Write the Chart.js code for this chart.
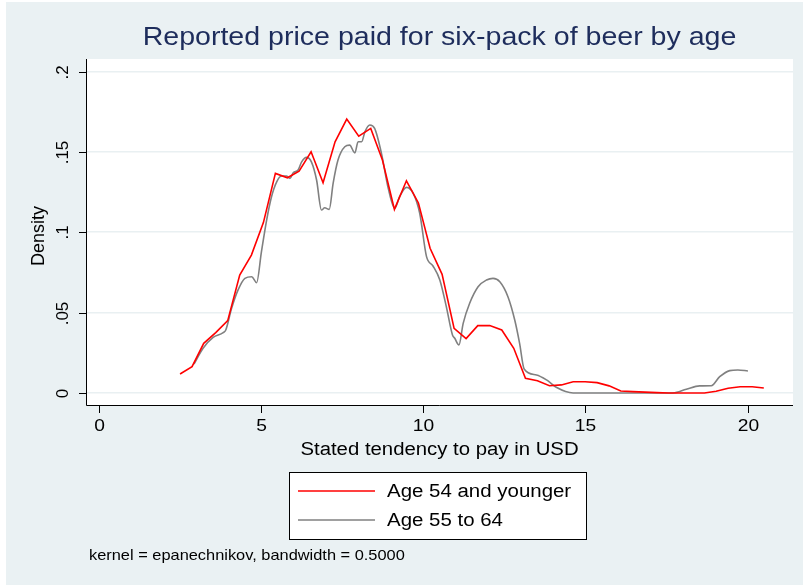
<!DOCTYPE html>
<html>
<head>
<meta charset="utf-8">
<script src="https://cdn.jsdelivr.net/npm/chart.js@4/dist/chart.umd.min.js"></script>
<style>
  html, body { margin: 0; padding: 0; background: #ffffff; }
  canvas { display: block; }
</style>
</head>
<body>
<canvas id="c" width="803" height="586"></canvas>
<script>
// ---- data ----
const titleText = 'Reported price paid for six-pack of beer by age';
const xTitle = 'Stated tendency to pay in USD';
const yTitle = 'Density';
const note = 'kernel = epanechnikov, bandwidth = 0.5000';
const seriesNames = ['Age 54 and younger', 'Age 55 to 64'];

const xTicks = [0, 5, 10, 15, 20];
const xTickLabels = ['0', '5', '10', '15', '20'];
const yTicks = [0, 0.05, 0.1, 0.15, 0.2];
const yTickLabels = ['0', '.05', '.1', '.15', '.2'];

const youngX = [2.50, 2.87, 3.23, 3.60, 3.97, 4.34, 4.70, 5.07, 5.44, 5.81,
                6.17, 6.54, 6.91, 7.28, 7.64, 8.01, 8.38, 8.74, 9.11, 9.48,
                9.85, 10.21, 10.58, 10.95, 11.32, 11.68, 12.05, 12.42, 12.79, 13.15,
                13.52, 13.89, 14.26, 14.62, 14.99, 15.36, 15.73, 16.09, 16.46, 16.83,
                17.20, 17.56, 17.93, 18.30, 18.67, 19.03, 19.40, 19.77, 20.14, 20.50];
const youngY = [0.0118, 0.0164, 0.0309, 0.0375, 0.0450, 0.0734, 0.0858, 0.1060, 0.1366, 0.1339,
                0.1380, 0.1501, 0.1308, 0.1563, 0.1704, 0.1598, 0.1646, 0.1449, 0.1142, 0.1320,
                0.1182, 0.0900, 0.0738, 0.0402, 0.0338, 0.0419, 0.0419, 0.0392, 0.0278, 0.0091,
                0.0076, 0.0045, 0.0050, 0.0070, 0.0070, 0.0064, 0.0044, 0.0012, 0.0008, 0.0005,
                0.0002, 0.0000, 0.0000, 0.0000, 0.0000, 0.0011, 0.0029, 0.0039, 0.0039, 0.0031];

const olderX = [2.93, 3.21, 3.52, 3.83, 3.91, 4.09, 4.29, 4.50, 4.71, 4.86,
                5.01, 5.17, 5.32, 5.48, 5.63, 5.78, 5.89, 5.99, 6.14, 6.25,
                6.40, 6.55, 6.71, 6.86, 6.96, 7.10, 7.22, 7.37, 7.58, 7.73,
                7.89, 7.99, 8.10, 8.20, 8.35, 8.50, 8.71, 8.92, 9.12, 9.27,
                9.48, 9.69, 9.89, 10.10, 10.30, 10.51, 10.71, 10.90, 10.97, 11.10,
                11.23, 11.43, 11.69, 11.95, 12.15, 12.36, 12.61, 12.82, 12.97, 13.11,
                13.49, 13.80, 14.10, 14.62, 15.44, 17.70, 18.11, 18.52, 18.88, 19.14,
                19.45, 19.70, 20.01];
const olderY = [0.0180, 0.0278, 0.0346, 0.0375, 0.0392, 0.0527, 0.0641, 0.0713, 0.0723, 0.0686,
                0.0879, 0.1076, 0.1221, 0.1314, 0.1350, 0.1350, 0.1335, 0.1370, 0.1387, 0.1438,
                0.1466, 0.1438, 0.1325, 0.1138, 0.1152, 0.1142, 0.1304, 0.1449, 0.1532, 0.1542,
                0.1494, 0.1563, 0.1563, 0.1625, 0.1667, 0.1646, 0.1491, 0.1273, 0.1149, 0.1221,
                0.1279, 0.1242, 0.1118, 0.0848, 0.0790, 0.0703, 0.0537, 0.0361, 0.0340, 0.0299,
                0.0433, 0.0558, 0.0661, 0.0703, 0.0713, 0.0692, 0.0599, 0.0454, 0.0309, 0.0149,
                0.0112, 0.0081, 0.0035, 0.0000, 0.0000, 0.0000, 0.0023, 0.0044, 0.0045, 0.0101,
                0.0139, 0.0143, 0.0137];

// ---- styling ----
const FONT = '"Liberation Sans", Arial, Helvetica, sans-serif';
const BG = '#eaf1f3';
const GRID = '#e9f0f2';
const TITLE_COLOR = '#1e2d5c';
const RED = '#ff0000';
const GRAY = '#808080';
const SX = 1.13; // horizontal glyph stretch seen in the reference

function stretchedText(c, text, x, y, align, sx) {
  c.save();
  c.translate(x, y);
  c.scale(sx, 1);
  c.textAlign = align;
  c.fillText(text, 0, 0);
  c.restore();
}

const decor = {
  id: 'decor',
  beforeDraw(chart) {
    const c = chart.ctx;
    const a = chart.chartArea;
    c.save();
    c.fillStyle = '#ffffff';
    c.fillRect(0, 0, chart.width, chart.height);
    c.fillStyle = BG;
    c.fillRect(6, 2, chart.width - 6, chart.height - 3);
    c.fillStyle = '#ffffff';
    c.fillRect(a.left, a.top, a.right - a.left, a.bottom - a.top);
    c.restore();
  },
  afterDraw(chart) {
    const c = chart.ctx;
    const a = chart.chartArea;
    const xs = chart.scales.x, ys = chart.scales.y;
    c.save();
    // axis lines
    c.strokeStyle = '#000000';
    c.lineWidth = 1;
    c.beginPath();
    c.moveTo(a.left + 0.5, a.top);
    c.lineTo(a.left + 0.5, a.bottom + 0.5);
    c.lineTo(a.right, a.bottom + 0.5);
    c.stroke();
    // x ticks
    c.fillStyle = '#000000';
    c.font = '17px ' + FONT;
    c.textBaseline = 'middle';
    xTicks.forEach((v, i) => {
      const px = Math.round(xs.getPixelForValue(v)) + 0.5;
      c.beginPath();
      c.moveTo(px, a.bottom + 1);
      c.lineTo(px, a.bottom + 8);
      c.stroke();
      stretchedText(c, xTickLabels[i], px, 426, 'center', SX);
    });
    // y ticks
    c.textAlign = 'center';
    yTicks.forEach((v, i) => {
      const py = Math.round(ys.getPixelForValue(v)) + 0.5;
      c.beginPath();
      c.moveTo(a.left - 7, py);
      c.lineTo(a.left, py);
      c.stroke();
      c.save();
      c.translate(63, py);
      c.rotate(-Math.PI / 2);
      c.fillText(yTickLabels[i], 0, 0);
      c.restore();
    });
    // axis titles
    c.font = '18px ' + FONT;
    stretchedText(c, xTitle, (a.left + a.right) / 2, 450, 'center', SX);
    c.save();
    c.translate(39, (a.top + a.bottom) / 2 + 4);
    c.rotate(-Math.PI / 2);
    c.textAlign = 'center';
    c.fillText(yTitle, 0, 0);
    c.restore();
    // title
    c.fillStyle = TITLE_COLOR;
    c.font = '25.5px ' + FONT;
    stretchedText(c, titleText, (a.left + a.right) / 2, 38, 'center', 1.12);
    // legend box
    c.fillStyle = '#ffffff';
    c.fillRect(289, 472, 297, 67);
    c.strokeStyle = '#000000';
    c.strokeRect(289.5, 472.5, 297, 67);
    const colors = [RED, GRAY];
    const rows = [491, 520];
    c.font = '18px ' + FONT;
    c.fillStyle = '#000000';
    seriesNames.forEach((n, i) => {
      c.strokeStyle = colors[i];
      c.lineWidth = 1.6;
      c.beginPath();
      c.moveTo(298, rows[i]);
      c.lineTo(375, rows[i]);
      c.stroke();
      stretchedText(c, n, 387, rows[i] + 1, 'left', 1.136);
    });
    // note
    c.font = '14.5px ' + FONT;
    stretchedText(c, note, 89, 556, 'left', 1.13);
    c.restore();
  }
};

const toPts = (xs, ys) => xs.map((x, i) => ({ x: x, y: ys[i] }));

new Chart(document.getElementById('c'), {
  type: 'line',
  data: {
    datasets: [
      { label: seriesNames[0], data: toPts(youngX, youngY), borderColor: RED, borderWidth: 1.6,
        pointRadius: 0, tension: 0, fill: false },
      { label: seriesNames[1], data: toPts(olderX, olderY), borderColor: GRAY, borderWidth: 1.6,
        pointRadius: 0, cubicInterpolationMode: 'monotone', fill: false }
    ]
  },
  options: {
    responsive: false,
    animation: false,
    events: [],
    layout: { padding: { left: 0, top: 59, right: 10, bottom: 0 } },
    plugins: { legend: { display: false }, title: { display: false }, tooltip: { enabled: false } },
    scales: {
      x: {
        type: 'linear', min: -0.4, max: 21.4,
        afterBuildTicks: s => { s.ticks = xTicks.map(v => ({ value: v })); },
        afterFit: s => { s.height = 586 - 405; },
        grid: { display: false }, border: { display: false }, ticks: { display: false }
      },
      y: {
        type: 'linear', min: -0.0075, max: 0.2078,
        afterBuildTicks: s => { s.ticks = yTicks.map(v => ({ value: v })); },
        afterFit: s => { s.width = 86; },
        grid: { color: GRID, lineWidth: 1.5, drawTicks: false }, border: { display: false },
        ticks: { display: false }
      }
    }
  },
  plugins: [decor]
});
</script>
</body>
</html>
